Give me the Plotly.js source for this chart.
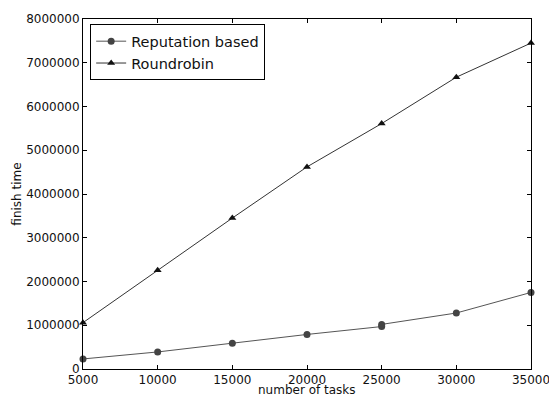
<!DOCTYPE html>
<html>
<head>
<meta charset="utf-8">
<script src="https://cdn.plot.ly/plotly-3.0.1.min.js"></script>
<style>html,body{margin:0;padding:0;background:#fff;}#chart{width:549px;height:394px;}</style>
</head>
<body>
<div id="chart"></div>
<script>
var repX = [5000, 10000, 15000, 20000, 25000, 25000, 30000, 35000];
var repY = [230000, 390000, 590000, 790000, 970000, 1020000, 1280000, 1750000];
var rrX = [5000, 10000, 15000, 20000, 25000, 30000, 35000];
var rrY = [1060000, 2260000, 3450000, 4620000, 5610000, 6670000, 7450000];
var xTicks = [5000, 10000, 15000, 20000, 25000, 30000, 35000];
var yTicks = [0, 1000000, 2000000, 3000000, 4000000, 5000000, 6000000, 7000000, 8000000];

var traces = [
  {x: repX, y: repY, name: 'Reputation based', mode: 'lines+markers', type: 'scatter', cliponaxis: false,
   line: {color: '#555555', width: 1}, marker: {symbol: 'circle', size: 7, color: '#444444'}},
  {x: rrX, y: rrY, name: 'Roundrobin', mode: 'lines+markers', type: 'scatter', cliponaxis: false,
   line: {color: '#333333', width: 1}, marker: {symbol: 'triangle-up', size: 7, color: '#111111'}}
];

var axisCommon = {
  showline: true, linecolor: '#000', linewidth: 1, mirror: 'ticks',
  ticks: 'inside', ticklen: 4, tickcolor: '#000', tickwidth: 1,
  showgrid: false, zeroline: false, automargin: false, ticklabeloverflow: 'allow',
  tickfont: {family: 'DejaVu Sans', size: 12, color: '#111'}
};

var layout = {
  width: 549, height: 394,
  margin: {l: 83, r: 18, t: 19, b: 25},
  paper_bgcolor: '#fff', plot_bgcolor: '#fff',
  font: {family: 'DejaVu Sans', size: 12, color: '#111'},
  showlegend: true,
  legend: {x: 0.016, y: 0.985, xanchor: 'left', yanchor: 'top',
           bordercolor: '#000', borderwidth: 1, bgcolor: '#fff',
           font: {family: 'DejaVu Sans', size: 14.5, color: '#111'}, tracegroupgap: 0},
  xaxis: Object.assign({}, axisCommon, {
    range: [5000, 35000], tickvals: xTicks, ticktext: xTicks.map(String)
  }),
  yaxis: Object.assign({}, axisCommon, {
    range: [0, 8000000], tickvals: yTicks, ticktext: yTicks.map(String),
    title: {text: 'finish time', standoff: 1, font: {family: 'DejaVu Sans', size: 12, color: '#111'}}
  }),
  annotations: [
    {text: 'number of tasks', xref: 'paper', yref: 'paper', x: 0.5, y: -0.06,
     xanchor: 'center', yanchor: 'middle', showarrow: false,
     font: {family: 'DejaVu Sans', size: 12, color: '#111'}}
  ]
};

Plotly.newPlot('chart', traces, layout, {displayModeBar: false, staticPlot: true});
</script>
</body>
</html>
